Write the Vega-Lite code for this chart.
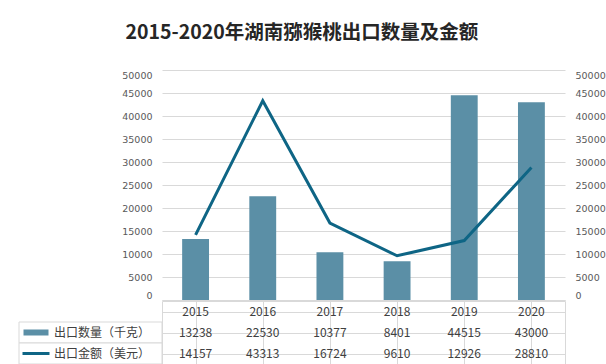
{
  "$schema": "https://vega.github.io/schema/vega-lite/v6.json",
  "autosize": {"type": "pad"},
  "padding": {"left": 16, "top": 22, "right": 2, "bottom": 0},
  "background": "white",
  "title": {
    "text": "2015-2020年湖南猕猴桃出口数量及金额",
    "font": "Noto Sans CJK SC",
    "fontSize": 19.5,
    "fontWeight": "bold",
    "color": "#262626",
    "anchor": "middle",
    "dx": -9,
    "offset": 27
  },
  "datasets": {
    "main": [
      {"year": "2015", "qty": 13238, "amt": 14157},
      {"year": "2016", "qty": 22530, "amt": 43313},
      {"year": "2017", "qty": 10377, "amt": 16724},
      {"year": "2018", "qty": 8401, "amt": 9610},
      {"year": "2019", "qty": 44515, "amt": 12926},
      {"year": "2020", "qty": 43000, "amt": 28810}
    ],
    "rows": [
      {"row": "出口数量（千克）", "kind": "bar"},
      {"row": "出口金额（美元）", "kind": "line"}
    ]
  },
  "vconcat": [
    {
      "hconcat": [
        {
          "width": 143,
          "height": 230,
          "data": {"values": [{"a": 1}]},
          "mark": {"type": "text", "text": ""}
        },
        {
          "width": 403,
          "height": 230,
          "data": {"name": "main"},
          "encoding": {
            "x": {
              "field": "year",
              "type": "nominal",
              "scale": {"paddingInner": 0.6, "paddingOuter": 0.3},
              "axis": {"labels": false, "ticks": false, "domain": true, "domainColor": "#d9d9d9", "grid": false, "title": null}
            }
          },
          "layer": [
            {
              "mark": {"type": "bar", "color": "#5b8fa6"},
              "encoding": {
                "y": {
                  "field": "qty",
                  "type": "quantitative",
                  "scale": {"domain": [0, 50000]},
                  "axis": {
                    "orient": "left",
                    "values": [0, 5000, 10000, 15000, 20000, 25000, 30000, 35000, 40000, 45000, 50000],
                    "format": "d",
                    "domain": false,
                    "ticks": false,
                    "grid": true,
                    "gridColor": "#d9d9d9",
                    "labelPadding": 10,
                    "labelFlush": true,
                    "labelFont": "DejaVu Sans",
                    "labelFontSize": 9.5,
                    "labelColor": "#595959",
                    "title": null
                  }
                }
              }
            },
            {
              "mark": {"type": "line", "color": "#0e6585", "strokeWidth": 3},
              "encoding": {
                "y": {
                  "field": "amt",
                  "type": "quantitative",
                  "scale": {"domain": [0, 50000]},
                  "axis": {
                    "orient": "right",
                    "values": [0, 5000, 10000, 15000, 20000, 25000, 30000, 35000, 40000, 45000, 50000],
                    "format": "d",
                    "domain": false,
                    "ticks": false,
                    "grid": false,
                    "labelPadding": 10,
                    "labelFlush": true,
                    "labelFont": "DejaVu Sans",
                    "labelFontSize": 9.5,
                    "labelColor": "#595959",
                    "title": null
                  }
                }
              }
            }
          ],
          "resolve": {"scale": {"y": "independent"}}
        }
      ],
      "spacing": 0,
      "bounds": "flush"
    },
    {
      "hconcat": [
        {
          "width": 143,
          "height": 63,
          "data": {"name": "rows"},
          "encoding": {
            "y": {
              "field": "row",
              "type": "nominal",
              "scale": {"domain": ["header", "出口数量（千克）", "出口金额（美元）"], "paddingInner": 0, "paddingOuter": 0},
              "axis": null
            }
          },
          "layer": [
            {
              "mark": {"type": "rect", "fill": "white", "stroke": "#d9d9d9", "strokeWidth": 1}
            },
            {
              "transform": [{"filter": "datum.kind === 'bar'"}],
              "mark": {"type": "point", "shape": "M-1,-0.24H1V0.24H-1Z", "filled": true, "color": "#5b8fa6", "size": 625, "opacity": 1},
              "encoding": {
                "x": {"datum": "sym", "type": "nominal", "scale": {"type": "point", "domain": ["sym", "lab"], "range": [17, 35], "padding": 0}, "axis": null}
              }
            },
            {
              "transform": [{"filter": "datum.kind === 'line'"}],
              "mark": {"type": "point", "shape": "M-1,0H1", "filled": false, "stroke": "#0e6585", "strokeWidth": 3, "size": 729, "opacity": 1},
              "encoding": {
                "x": {"datum": "sym", "type": "nominal", "axis": null}
              }
            },
            {
              "mark": {"type": "text", "align": "left", "baseline": "middle", "font": "Noto Sans CJK SC", "fontSize": 12, "color": "#404040"},
              "encoding": {
                "x": {"datum": "lab", "type": "nominal", "axis": null},
                "text": {"field": "row"}
              }
            }
          ]
        },
        {
          "width": 403,
          "height": 63,
          "view": {"stroke": "#d9d9d9"},
          "data": {"name": "main"},
          "encoding": {
            "x": {
              "field": "year",
              "type": "nominal",
              "scale": {"paddingInner": 0, "paddingOuter": 0},
              "axis": {"orient": "top", "labels": false, "ticks": false, "domain": false, "grid": true, "gridColor": "#d9d9d9", "bandPosition": 0, "title": null}
            }
          },
          "layer": [
            {
              "mark": {"type": "text", "font": "Noto Sans CJK SC", "fontSize": 12, "color": "#404040", "baseline": "middle"},
              "encoding": {
                "y": {
                  "datum": "h",
                  "type": "nominal",
                  "scale": {"domain": ["h", "qty", "amt"], "paddingInner": 0, "paddingOuter": 0},
                  "axis": {"labels": false, "ticks": false, "domain": false, "grid": true, "gridColor": "#d9d9d9", "bandPosition": 0, "title": null}
                },
                "text": {"field": "year"}
              }
            },
            {
              "transform": [{"fold": ["qty", "amt"], "as": ["key", "value"]}],
              "mark": {"type": "text", "font": "Noto Sans CJK SC", "fontSize": 12, "color": "#404040", "baseline": "middle"},
              "encoding": {
                "y": {"field": "key", "type": "nominal"},
                "text": {"field": "value", "type": "quantitative", "format": "d"}
              }
            }
          ]
        }
      ],
      "spacing": 0,
      "bounds": "flush"
    }
  ],
  "spacing": 0,
  "bounds": "full",
  "config": {
    "view": {"stroke": null}
  }
}
